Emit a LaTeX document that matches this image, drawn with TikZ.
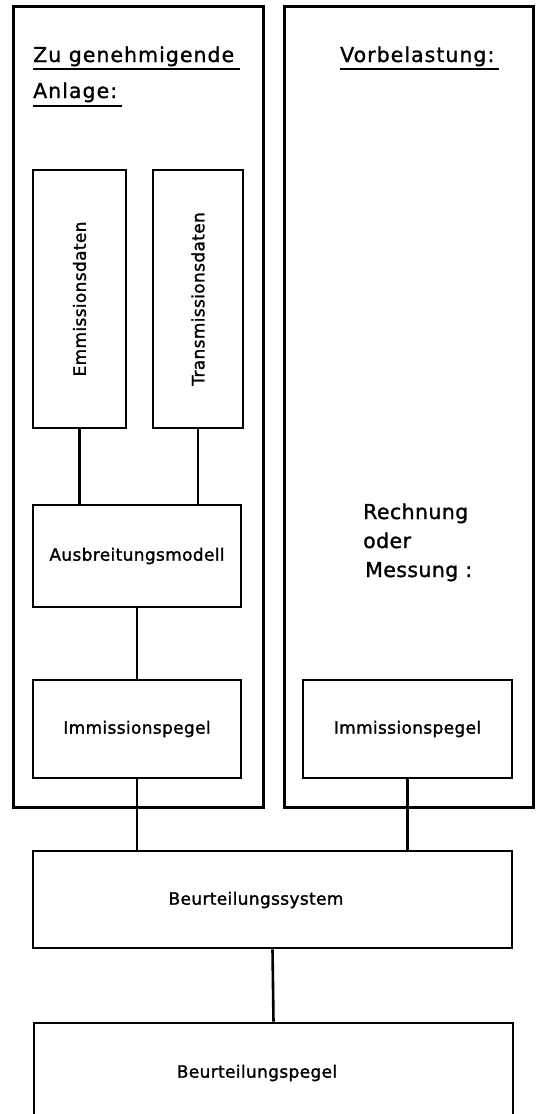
\documentclass[tikz,border=0pt]{standalone}
\usepackage{fontspec}
\setmainfont{DejaVu Sans}
\newfontfamily\bigf[LetterSpace=5,FakeBold=1.2]{DejaVu Sans}
\newfontfamily\midf[LetterSpace=2,FakeBold=1.2]{DejaVu Sans}
\newfontfamily\smallf[LetterSpace=2,FakeBold=1.5]{DejaVu Sans}
\usetikzlibrary{calc}
\begin{document}
\begin{tikzpicture}[x=1pt,y=-1pt,
  box/.style={draw, line width=2.8pt, rectangle, inner sep=0pt, font=\smallf\fontsize{17}{20}\selectfont},
  outer/.style={draw, line width=3pt, rectangle, inner sep=0pt},
  conn/.style={line width=2.6pt},
  uline/.style={line width=2.4pt},
  title/.style={anchor=base west, inner sep=0pt, font=\bigf\fontsize{20.5}{24}\selectfont},
  midtext/.style={anchor=base west, inner sep=0pt, font=\midf\fontsize{20.5}{24}\selectfont},
  lbl/.style={inner sep=0pt, font=\smallf\fontsize{17}{20}\selectfont}]
\useasboundingbox (0,0) rectangle (541,1114);
\clip (0,0) rectangle (541,1114);
\fill[white] (0,0) rectangle (541,1114);

% outer panels
\node[outer, minimum width=250pt, minimum height=801pt] (outerL) at (138,406.5) {};
\node[outer, minimum width=249pt, minimum height=801pt] (outerR) at (408.5,406.5) {};

% titles
\node[title] (t1) at (33,62) {Zu genehmigende};
\node[title] (t2) at (33,98) {Anlage:};
\node[title] (t3) at (340,62) {Vorbelastung:};
\draw[uline] ($(t1.base west)+(0,7)$) -- ++(207,0);
\draw[uline] ($(t2.base west)+(0,8)$) -- ++(89,0);
\draw[uline] ($(t3.base west)+(0,7)$) -- ++(159,0);

% left column
\node[box, minimum width=93pt, minimum height=258pt] (emm) at (79.5,299) {};
\node[box, minimum width=90pt, minimum height=258pt] (trans) at (198,299) {};
\node[lbl, rotate=90] (emmt) at (emm.center) {Emmissionsdaten};
\node[lbl, rotate=90] (transt) at (trans.center) {Transmissionsdaten};
\node[box, minimum width=208pt, minimum height=102pt] (ausb) at (137,556) {Ausbreitungsmodell};
\node[box, minimum width=208pt, minimum height=98pt] (immL) at (137,729) {Immissionspegel};

% right column
\node[midtext] (r1) at (363,519) {Rechnung};
\node[midtext] (r2) at (363,548) {oder};
\node[midtext] (r3) at (365,577) {Messung :};
\node[box, minimum width=209pt, minimum height=98pt] (immR) at (407.5,729) {Immissionspegel};

% bottom
\node[box, minimum width=479pt, minimum height=97pt] (bsys) at (272.5,899.5) {};
\node[lbl] (bsyst) at (256,900) {Beurteilungssystem};
\node[box, minimum width=479pt, minimum height=100pt] (bpeg) at (273.5,1073) {};
\node[lbl] (bpegt) at (257,1073) {Beurteilungspegel};

% connectors
\draw[conn] (emm.south) -- (emm.south |- ausb.north);
\draw[conn] (trans.south) -- (trans.south |- ausb.north);
\draw[conn] (ausb.south) -- (immL.north);
\draw[conn] (immL.south) -- (immL.south |- bsys.north);
\draw[conn] (immR.south) -- (immR.south |- bsys.north);
\draw[conn] (bsys.south) -- (bpeg.north);
\end{tikzpicture}
\end{document}
